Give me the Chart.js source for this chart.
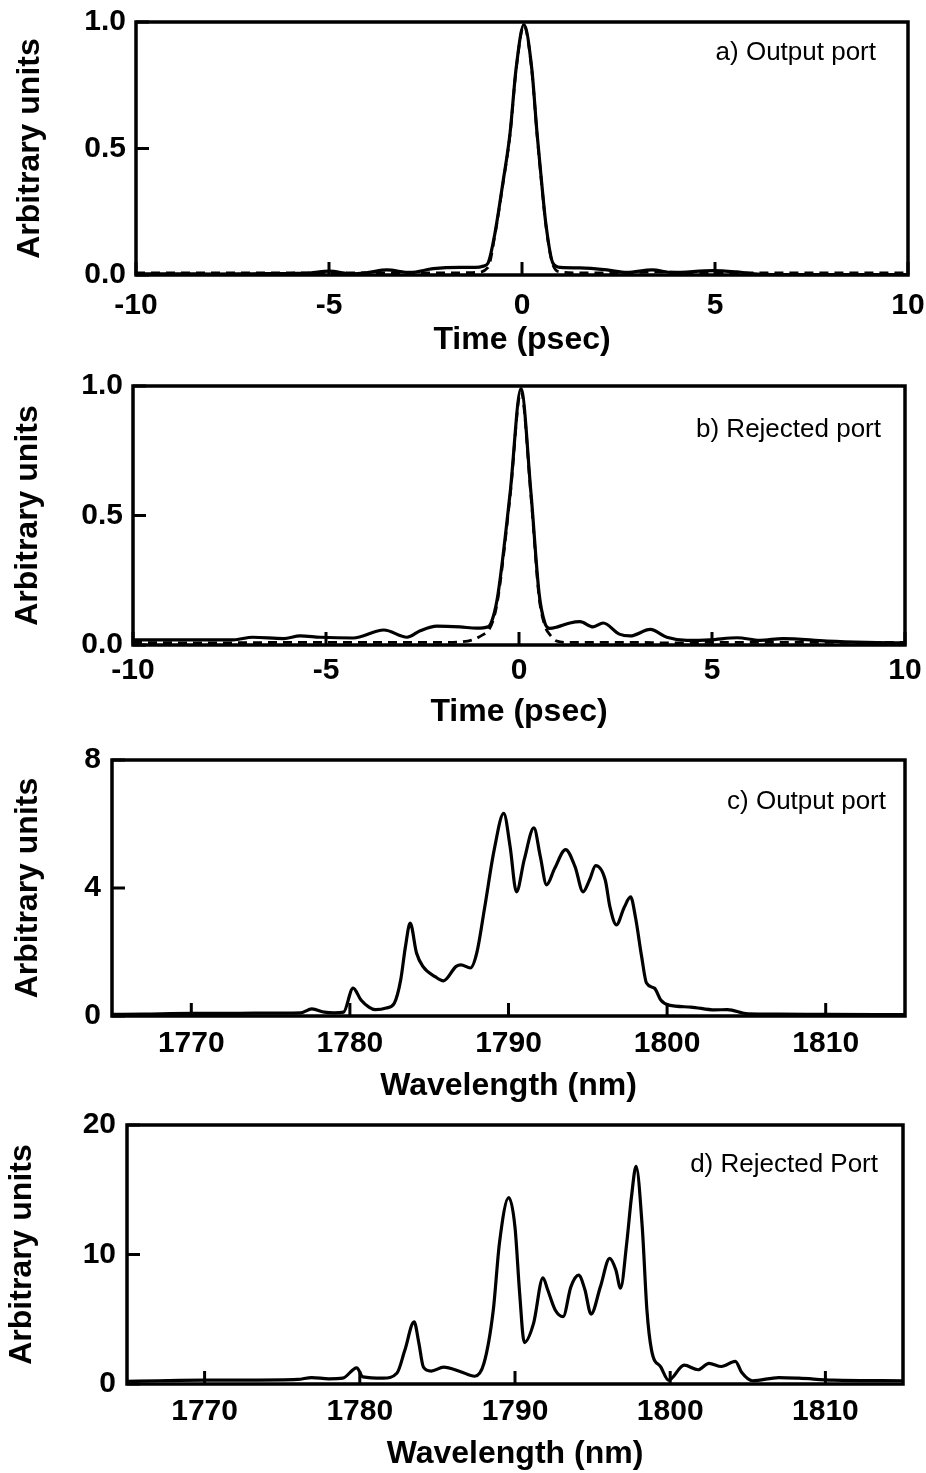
<!DOCTYPE html>
<html><head><meta charset="utf-8">
<script src="https://cdn.jsdelivr.net/npm/chart.js@4"></script>
<style>
html,body{margin:0;padding:0;background:#fff;}
body{width:926px;height:1473px;position:relative;overflow:hidden;}
.p{position:absolute;left:0;width:926px;}
canvas{display:block;}
</style></head><body>
<div class="p" style="top:0;height:365px"><canvas id="ca" width="926" height="365"></canvas></div>
<div class="p" style="top:365px;height:370px"><canvas id="cb" width="926" height="370"></canvas></div>
<div class="p" style="top:735px;height:370px"><canvas id="cc" width="926" height="370"></canvas></div>
<div class="p" style="top:1105px;height:368px"><canvas id="cd" width="926" height="368"></canvas></div>
<script>
// ---------- tick labels ----------
const timeTicks = [-10, -5, 0, 5, 10];
const timeYTicks = [0, 0.5, 1.0];
const waveTicks = [1770, 1780, 1790, 1800, 1810];
const cYTicks = [0, 4, 8];
const dYTicks = [0, 10, 20];

// ---------- panel a: output port (time) ----------
const tA = [-10,-9,-8,-7,-6,-5.5,-5,-4.4,-4,-3.5,-2.9,-2.3,-1.6,-1.2,-1.0,-0.88,-0.7,-0.5,-0.31,-0.15,0.05,0.25,0.39,0.5,0.62,0.8,1.0,1.5,2.2,2.72,3.37,3.9,4.95,5.57,6.17,7,8,9,10];
const aOut = [0.005,0.005,0.004,0.005,0.006,0.008,0.015,0.005,0.01,0.02,0.01,0.025,0.03,0.03,0.035,0.047,0.166,0.36,0.56,0.82,0.99,0.82,0.56,0.38,0.2,0.047,0.03,0.028,0.02,0.01,0.02,0.01,0.017,0.012,0.003,0.002,0.002,0.002,0.002];
const tAd = [-10,-8,-6,-4,-2,-1.2,-0.88,-0.7,-0.5,-0.31,-0.15,0.05,0.25,0.39,0.5,0.62,0.8,1.0,1.5,2.5,3.5,4.5,6,8,10];
const aIn = [0.008,0.008,0.008,0.008,0.008,0.01,0.03,0.16,0.355,0.555,0.815,0.985,0.815,0.555,0.375,0.195,0.04,0.012,0.008,0.008,0.012,0.008,0.008,0.008,0.008];

// ---------- panel b: rejected port (time) ----------
const tB = [-10,-9,-8,-7.4,-6.9,-6.1,-5.67,-5.15,-4.3,-3.5,-2.9,-2.56,-2.13,-1.53,-1.1,-0.8,-0.67,-0.54,-0.23,0.05,0.31,0.52,0.67,0.8,1.0,1.32,1.58,1.92,2.18,2.6,2.88,3.4,3.83,4.35,4.95,5.65,6.24,6.84,7.98,9,10];
const bOut = [0.02,0.02,0.02,0.02,0.03,0.025,0.035,0.03,0.027,0.058,0.03,0.055,0.073,0.07,0.065,0.07,0.108,0.2,0.587,0.99,0.587,0.2,0.085,0.064,0.07,0.085,0.09,0.07,0.085,0.042,0.035,0.06,0.03,0.018,0.02,0.028,0.018,0.025,0.015,0.01,0.008];
const tBd = [-10,-8,-6,-4,-3,-2,-1.5,-1.2,-0.93,-0.8,-0.67,-0.54,-0.23,0.05,0.31,0.52,0.67,0.8,0.98,1.3,2,3,4,5,6,7,8,9,10];
const bIn = [0.01,0.008,0.01,0.01,0.01,0.01,0.012,0.02,0.04,0.055,0.095,0.185,0.575,0.98,0.575,0.185,0.075,0.04,0.015,0.01,0.01,0.01,0.008,0.01,0.01,0.01,0.01,0.01,0.01];

// ---------- panel c: output port (wavelength) ----------
const wC = [1765,1767,1770,1772,1774,1776.9,1777.6,1778.4,1779,1779.6,1780.2,1780.7,1781.2,1781.6,1782.3,1782.8,1783.2,1783.5,1783.8,1784.2,1784.6,1785.4,1785.9,1786.7,1787.0,1787.6,1788.0,1788.5,1789.1,1789.7,1790.1,1790.5,1791.0,1791.6,1792.0,1792.4,1792.9,1793.6,1794.2,1794.7,1795.1,1795.5,1796.1,1796.4,1796.8,1797.3,1797.7,1798.0,1798.4,1798.7,1799.2,1799.6,1800.1,1801.5,1803.0,1803.8,1805.1,1807,1810,1815];
const cOut = [0.05,0.06,0.08,0.08,0.09,0.1,0.22,0.12,0.1,0.12,0.87,0.5,0.28,0.2,0.25,0.4,1.12,2.16,2.9,1.97,1.55,1.22,1.1,1.55,1.6,1.5,1.97,3.4,5.2,6.33,5.3,3.88,4.9,5.88,5.0,4.1,4.6,5.2,4.66,3.88,4.24,4.7,4.25,3.4,2.85,3.4,3.72,3.1,1.84,1.03,0.87,0.5,0.34,0.28,0.19,0.2,0.07,0.06,0.05,0.04];

// ---------- panel d: rejected port (wavelength) ----------
const wD = [1765,1767,1770,1773,1776,1776.9,1778,1778.9,1779.8,1780.2,1781.5,1782.4,1782.9,1783.5,1783.8,1784.1,1784.6,1785.4,1786.5,1787.4,1788.0,1788.6,1789.0,1789.6,1790.0,1790.3,1790.6,1791.2,1791.8,1792.1,1792.6,1793.1,1793.6,1794.1,1794.5,1794.9,1795.5,1796.1,1796.5,1796.8,1797.2,1797.5,1797.8,1798.2,1798.5,1798.8,1799.4,1799.9,1800.9,1801.8,1802.5,1803.3,1804.2,1804.6,1805.3,1807.0,1808.3,1810.5,1815];
const dOut = [0.2,0.25,0.3,0.3,0.35,0.5,0.4,0.45,1.25,0.55,0.45,0.85,2.6,4.8,3.2,1.3,1.0,1.3,0.95,0.6,1.6,5.7,10.9,14.4,12.1,7.0,3.2,4.7,8.2,7.3,5.7,5.2,7.5,8.4,7.3,5.4,7.5,9.7,8.8,7.4,10.9,14.4,16.8,12.1,5.7,2.6,1.3,0.3,1.45,1.1,1.6,1.35,1.75,0.9,0.25,0.5,0.45,0.3,0.25];

const FONT = "'Liberation Sans', Arial, Helvetica, sans-serif";

const framePlugin = {
  id: 'frame',
  afterDatasetsDraw(chart, args, opts) {
    const {ctx, chartArea: a, scales: {x, y}} = chart;
    ctx.save();
    ctx.strokeStyle = '#000';
    ctx.lineWidth = 3.5;
    ctx.strokeRect(a.left, a.top, a.right - a.left, a.bottom - a.top);
    ctx.lineWidth = 3;
    ctx.beginPath();
    x.ticks.forEach(t => { const px = x.getPixelForValue(t.value); ctx.moveTo(px, a.bottom); ctx.lineTo(px, a.bottom - opts.tl); });
    y.ticks.forEach(t => { const py = y.getPixelForValue(t.value); ctx.moveTo(a.left, py); ctx.lineTo(a.left + opts.tl, py); });
    ctx.stroke();
    ctx.font = '26px ' + FONT;
    ctx.fillStyle = '#000';
    ctx.textAlign = 'right';
    ctx.textBaseline = 'middle';
    ctx.fillText(opts.label, a.right - opts.lx, a.top + opts.ly);
    ctx.restore();
  }
};

function pts(xs, ys) { return xs.map((v, i) => ({x: v, y: ys[i]})); }

function makePanel(id, p) {
  const sets = p.sets.map(s => ({
    data: pts(s.x, s.y),
    borderColor: '#000',
    borderWidth: s.dash ? 2.8 : 3.2,
    borderDash: s.dash || [],
    pointRadius: 0,
    fill: false,
    cubicInterpolationMode: 'monotone'
  }));
  new Chart(document.getElementById(id), {
    type: 'line',
    data: {datasets: sets},
    options: {
      responsive: false, animation: false, events: [],
      layout: {padding: {top: p.top, right: p.right, left: 0, bottom: 0}},
      plugins: {legend: {display: false}, tooltip: {enabled: false},
        frame: {tl: 13, label: p.label, lx: p.lx, ly: p.ly}},
      scales: {
        x: {
          type: 'linear', min: p.xmin, max: p.xmax,
          grid: {display: false, drawTicks: false}, border: {display: false},
          afterBuildTicks: s => { s.ticks = p.xTicks.map(v => ({value: v})); },
          afterFit: s => { s.height = p.xh; s.paddingLeft = 0; s.paddingRight = 0; },
          ticks: {font: {size: 30, weight: 'bold', family: FONT}, color: '#000', padding: p.xpad,
                  maxRotation: 0, minRotation: 0, autoSkip: false, callback: v => String(v)},
          title: {display: true, text: p.xTitle, color: '#000',
                  font: {size: 32, weight: 'bold', family: FONT}, padding: {top: 0, bottom: p.xtpb}}
        },
        y: {
          type: 'linear', min: p.ymin, max: p.ymax,
          grid: {display: false, drawTicks: false}, border: {display: false},
          afterBuildTicks: s => { s.ticks = p.yTicks.map(v => ({value: v})); },
          afterFit: s => { s.width = p.left; s.paddingTop = 0; s.paddingBottom = 0; },
          ticks: {font: {size: 30, weight: 'bold', family: FONT}, color: '#000', padding: p.ypad,
                  autoSkip: false, callback: p.yfmt},
          title: {display: true, text: 'Arbitrary units', color: '#000',
                  font: {size: 32, weight: 'bold', family: FONT}, padding: {top: p.ytpt, bottom: 0}}
        }
      }
    },
    plugins: [framePlugin]
  });
}

const fmt1 = v => Number(v).toFixed(1);
const fmt0 = v => String(v);

makePanel('ca', {
  sets: [{x: tA, y: aOut}, {x: tAd, y: aIn, dash: [9, 6]}],
  top: 22, right: 18, left: 136, xh: 90, xpad: 13, xtpb: 6, ypad: 10, ytpt: 11,
  xmin: -10, xmax: 10, ymin: 0, ymax: 1, xTicks: timeTicks, yTicks: timeYTicks, yfmt: fmt1,
  xTitle: 'Time (psec)', label: 'a) Output port', lx: 32, ly: 31
});
makePanel('cb', {
  sets: [{x: tB, y: bOut}, {x: tBd, y: bIn, dash: [9, 6]}],
  top: 21, right: 21, left: 133, xh: 90, xpad: 8, xtpb: 4, ypad: 10, ytpt: 9,
  xmin: -10, xmax: 10, ymin: 0, ymax: 1, xTicks: timeTicks, yTicks: timeYTicks, yfmt: fmt1,
  xTitle: 'Time (psec)', label: 'b) Rejected port', lx: 24, ly: 44
});
makePanel('cc', {
  sets: [{x: wC, y: cOut}],
  top: 25, right: 21, left: 112, xh: 89, xpad: 10, xtpb: 0, ypad: 11, ytpt: 9,
  xmin: 1765, xmax: 1815, ymin: 0, ymax: 8, xTicks: waveTicks, yTicks: cYTicks, yfmt: fmt0,
  xTitle: 'Wavelength (nm)', label: 'c) Output port', lx: 19, ly: 42
});
makePanel('cd', {
  sets: [{x: wD, y: dOut}],
  top: 20, right: 23, left: 127, xh: 89, xpad: 10, xtpb: 0, ypad: 11, ytpt: 3,
  xmin: 1765, xmax: 1815, ymin: 0, ymax: 20, xTicks: waveTicks, yTicks: dYTicks, yfmt: fmt0,
  xTitle: 'Wavelength (nm)', label: 'd) Rejected Port', lx: 25, ly: 40
});
</script>
</body></html>
